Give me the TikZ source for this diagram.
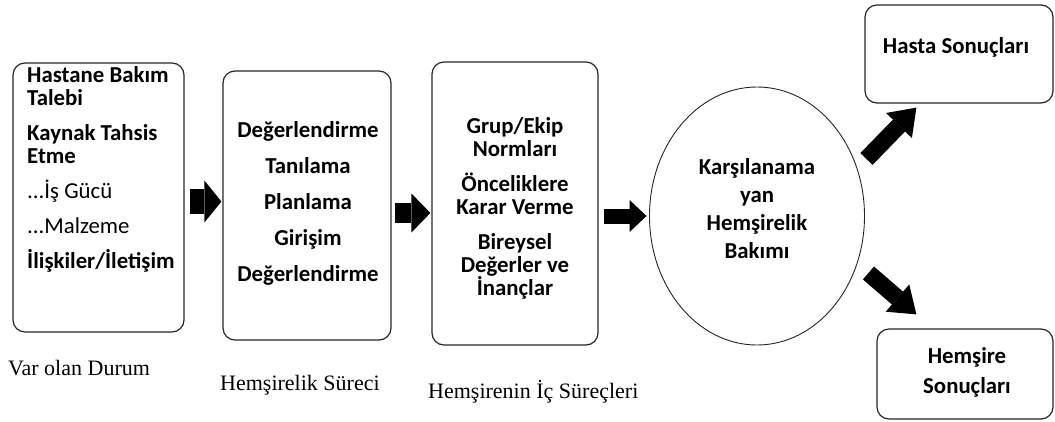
\documentclass[tikz,border=0pt]{standalone}
\usepackage{fontspec}
\setmainfont{Liberation Serif}
\newfontfamily\calfont{Carlito}
\usetikzlibrary{arrows.meta,shapes.geometric}
\begin{document}
\begin{tikzpicture}[x=1pt,y=-1pt,
  box/.style={draw=black!85,line width=1.2pt,rounded corners=12pt,inner sep=0pt},
  txt/.style={inner sep=0pt,font=\calfont\bfseries\fontsize{22.8}{23}\selectfont},
  captxt/.style={inner sep=0pt,anchor=base west,font=\fontsize{22}{24}\selectfont},
  blk/.style={line width=25pt,-{Triangle[length=17pt,width=42pt,line width=0pt]}}
]
\useasboundingbox (0,0) rectangle (1055,421);

% boxes
\node[box,minimum width=171pt,minimum height=269pt] (b1) at (98.5,197.5) {};
\node[box,minimum width=168pt,minimum height=269pt] (b2) at (307,205.5) {};
\node[box,minimum width=166pt,minimum height=283pt] (b3) at (515,203.5) {};
\node[draw=black!85,line width=0.9pt,ellipse,inner sep=0pt,minimum width=215pt,minimum height=258pt] (el) at (757,216) {};
\node[box,minimum width=188pt,minimum height=98pt] (hs) at (959,54) {};
\node[box,minimum width=176pt,minimum height=90pt] (hm) at (965,374) {};

% texts
\node[txt,anchor=north west,align=left] (t1) at (27,66.5) {Hastane Bakım\\Talebi\\[12pt]
Kaynak Tahsis\\Etme\\[12pt]
{\mdseries ...İş Gücü}\\[12pt]
{\mdseries ...Malzeme}\\[12pt]
İlişkiler/İletişim};
\node[txt,anchor=north,align=center] (t2) at (308,121.5) {Değerlendirme\\[13pt]Tanılama\\[13pt]Planlama\\[13pt]Girişim\\[13pt]Değerlendirme};
\node[txt,anchor=north,align=center] (t3) at (515,117.5) {Grup/Ekip\\Normları\\[12pt]Önceliklere\\Karar Verme\\[12pt]Bireysel\\Değerler ve\\İnançlar};
\node[txt,anchor=north,align=center] (t4) at (757,158.5) {Karşılanama\\[5pt]yan\\[5pt]Hemşirelik\\[5pt]Bakımı};
\node[txt,anchor=base] (t5) at (956,53) {Hasta Sonuçları};
\node[txt,anchor=north,align=center] (t6) at (967,347.5) {Hemşire\\[7pt]Sonuçları};

% captions
\node[captxt] (c1) at (8,375) {Var olan Durum};
\node[captxt] (c2) at (220,390) {Hemşirelik Süreci};
\node[captxt] (c3) at (428,398) {Hemşirenin İç Süreçleri};

% block arrows
\draw[blk] ([shift={(5,4)}]b1.east) -- ([shift={(-1,-4)}]b2.west);
\draw[line width=20pt,-{Triangle[length=19pt,width=39pt,line width=0pt]}] ([shift={(3,7.5)}]b2.east) -- ([shift={(-1,9.5)}]b3.west);
\draw[line width=15pt,-{Triangle[length=17pt,width=32pt,line width=0pt]}] ([shift={(5,12.5)}]b3.east) -- ([shift={(-2.5,0)}]el.west);
\draw[line width=17pt,-{Triangle[length=25pt,width=36pt,line width=0pt]}] ([shift={(1.5,-57)}]el.east) -- ([shift={(52,4)}]hs.south west);
\draw[line width=17pt,-{Triangle[length=25pt,width=36pt,line width=0pt]}] ([shift={(3.5,57)}]el.east) -- ([shift={(40,-14)}]hm.north west);
\end{tikzpicture}
\end{document}
